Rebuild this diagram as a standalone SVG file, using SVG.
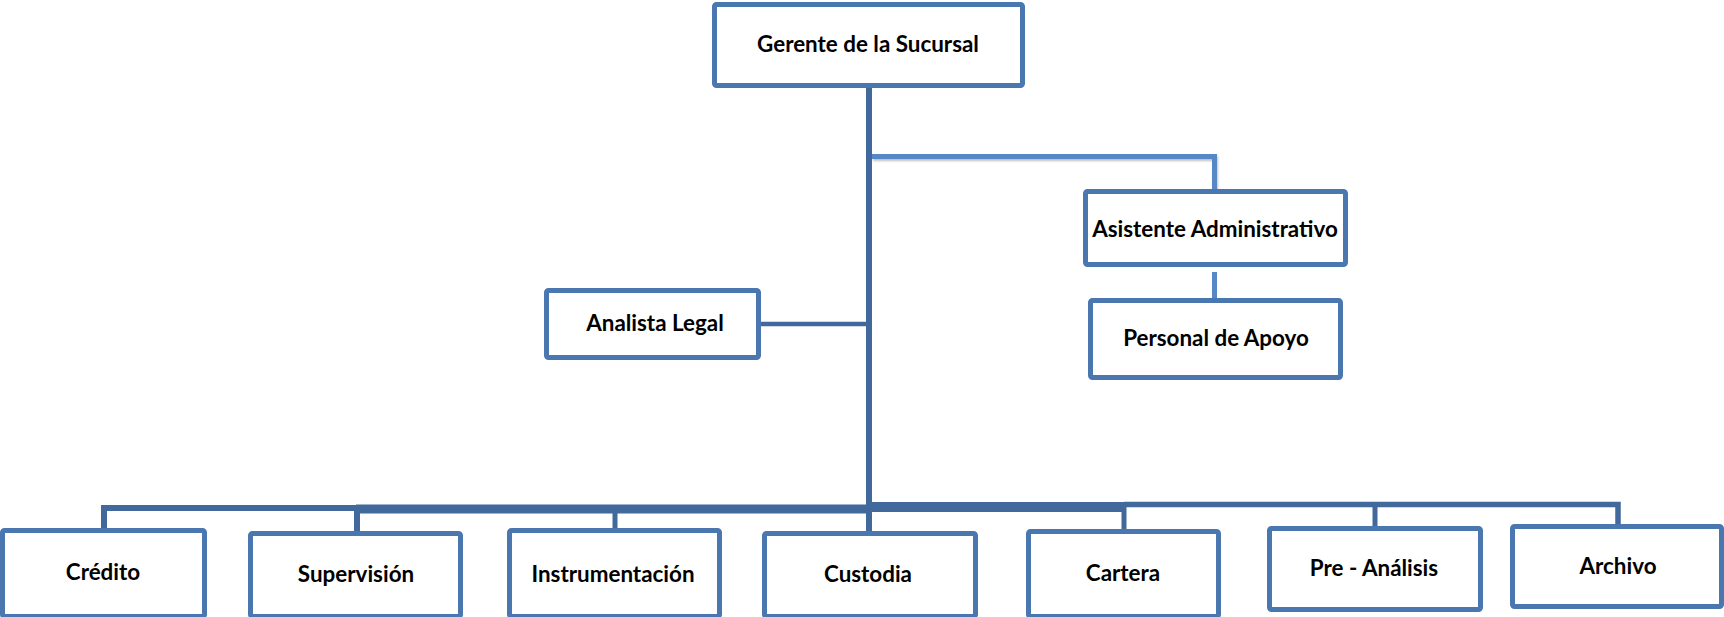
<svg xmlns="http://www.w3.org/2000/svg" width="1724" height="617" viewBox="0 0 1724 617">
  <defs>
    <style>
      .box { fill: #ffffff; stroke: #4a77b0; stroke-width: 5; }
      .lbl { font-family: "Lato", "Liberation Sans", sans-serif; font-weight: 700; font-size: 22.4px; fill: #000000; text-anchor: middle; }
      .bus { fill: none; stroke: #41699b; stroke-linejoin: miter; }
      .lite { fill: none; stroke: #5688c6; stroke-width: 5; }
    </style>
    <filter id="soft" x="-5%" y="-50%" width="110%" height="200%">
      <feDropShadow dx="1" dy="2" stdDeviation="1" flood-color="#000000" flood-opacity="0.25"/>
    </filter>
  </defs>
  <rect width="1724" height="617" fill="#ffffff"/>

  <!-- connectors -->
  <g id="connectors">
    <!-- main trunk from the branch manager down to the bottom bus -->
    <line class="bus" x1="869" y1="86" x2="869" y2="532" stroke-width="6"/>
    <!-- side branch to the administrative assistant -->
    <path class="lite" d="M872,156.5 H1214.5 V192" filter="url(#soft)"/>
    <!-- assistant to support staff -->
    <line class="lite" x1="1214.5" y1="272" x2="1214.5" y2="300"/>
    <!-- legal analyst -->
    <line class="bus" x1="760" y1="324" x2="869" y2="324" stroke-width="4.5"/>
    <!-- bottom bus, left side -->
    <path class="bus" d="M104,529 V508 H357 V532" stroke-width="6"/>
    <line class="bus" x1="356" y1="509" x2="869" y2="509" stroke-width="9"/>
    <line class="bus" x1="615" y1="509" x2="615" y2="529" stroke-width="5"/>
    <!-- bottom bus, right side -->
    <line class="bus" x1="869" y1="507" x2="1126" y2="507" stroke-width="10"/>
    <line class="bus" x1="1124" y1="507" x2="1124" y2="530" stroke-width="5"/>
    <path class="bus" d="M1124,504.5 H1618 V525" stroke-width="5.5"/>
    <line class="bus" x1="1375" y1="505" x2="1375" y2="527" stroke-width="5"/>
  </g>

  <g id="gerente">
    <rect class="box" x="714.5" y="4.5" width="308" height="81" rx="2"/>
    <text class="lbl" x="868" y="52">Gerente de la Sucursal</text>
  </g>

  <g id="asistente">
    <rect class="box" x="1085.5" y="191.5" width="260" height="73" rx="2"/>
    <text class="lbl" x="1215" y="237">Asistente Administrativo</text>
  </g>

  <g id="personal">
    <rect class="box" x="1090.5" y="300.5" width="250" height="77" rx="2"/>
    <text class="lbl" x="1216" y="346">Personal de Apoyo</text>
  </g>

  <g id="analista">
    <rect class="box" x="546.5" y="290.5" width="212" height="67" rx="2"/>
    <text class="lbl" x="655" y="331">Analista Legal</text>
  </g>

  <g id="credito">
    <rect class="box" x="2.5" y="530.5" width="202" height="86" rx="2"/>
    <text class="lbl" x="103" y="580">Crédito</text>
  </g>

  <g id="supervision">
    <rect class="box" x="250.5" y="533.5" width="210" height="83" rx="2"/>
    <text class="lbl" x="356" y="582">Supervisión</text>
  </g>

  <g id="instrumentacion">
    <rect class="box" x="509.5" y="530.5" width="210" height="86" rx="2"/>
    <text class="lbl" x="613" y="582">Instrumentación</text>
  </g>

  <g id="custodia">
    <rect class="box" x="764.5" y="533.5" width="211" height="83" rx="2"/>
    <text class="lbl" x="868" y="582">Custodia</text>
  </g>

  <g id="cartera">
    <rect class="box" x="1028.5" y="531.5" width="190" height="85" rx="2"/>
    <text class="lbl" x="1123" y="581">Cartera</text>
  </g>

  <g id="preanalisis">
    <rect class="box" x="1269.5" y="528.5" width="211" height="81" rx="2"/>
    <text class="lbl" x="1374" y="576">Pre - Análisis</text>
  </g>

  <g id="archivo">
    <rect class="box" x="1512.5" y="526.5" width="209" height="80" rx="2"/>
    <text class="lbl" x="1618" y="574">Archivo</text>
  </g>
</svg>
